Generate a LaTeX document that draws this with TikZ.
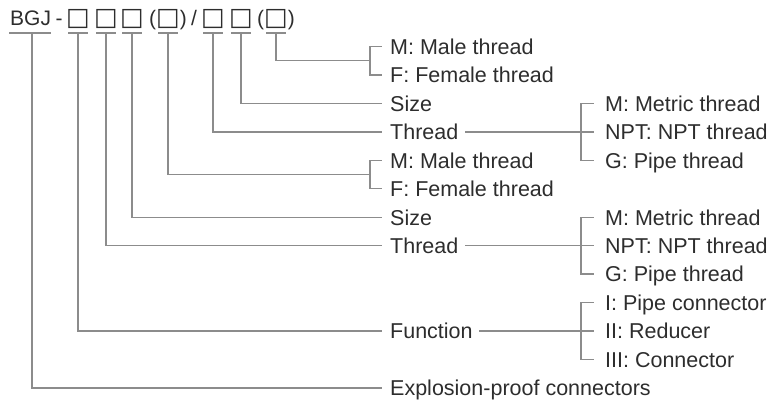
\documentclass[tikz,border=0pt]{standalone}
\usepackage{fontspec}
\setmainfont{Liberation Sans}
\newfontfamily\boxfont{DejaVu Sans}
\newcommand{\bx}{{\boxfont\fontsize{25}{28}\selectfont □}}
\definecolor{txt}{RGB}{45,45,45}
\definecolor{ln}{RGB}{140,140,140}
\begin{document}
\begin{tikzpicture}[x=1pt,y=-1pt,
  lbl/.style={anchor=base west, inner sep=0pt, text=txt, font=\fontsize{21.5}{24}\selectfont},
  ttl/.style={anchor=base, inner sep=0pt, text=txt, font=\fontsize{21}{24}\selectfont},
  conn/.style={draw=ln, line width=1.3pt, line cap=rect},
]
\useasboundingbox (0,0) rectangle (780,402);
% title
\node[ttl, anchor=base west] (tB) at (10,25) {BGJ};
\node[ttl] (tD) at (59,25) {-};
\node[ttl] (t1) at (78,25.5) {\bx};
\node[ttl] (t2) at (106,25.5) {\bx};
\node[ttl] (t3) at (132,25.5) {\bx};
\node[ttl] (t4) at (168,25) {(\bx)};
\node[ttl] (tS) at (194,25) {/};
\node[ttl] (t5) at (213,25.5) {\bx};
\node[ttl] (t6) at (241,25.5) {\bx};
\node[ttl] (t7) at (276,25) {(\bx)};
% underline anchors
\coordinate (u0) at (32,33);
\coordinate (u1) at (78,33);
\coordinate (u2) at (106,33);
\coordinate (u3) at (132,33);
\coordinate (u4) at (168,33);
\coordinate (u5) at (213,33);
\coordinate (u6) at (241,33);
\coordinate (u7) at (276,33);
\draw[conn] (10,33) -- (50,33);
\foreach \u in {u1,u2,u3,u4,u5,u6,u7} {\draw[conn] (\u) ++(-9,0) -- ++(18,0);}
% labels
\node[lbl] (m1) at (390,54.3) {M: Male thread};
\node[lbl] (f1) at (390,82.8) {F: Female thread};
\node[lbl] (s1) at (390,111.2) {Size};
\node[lbl] (th1) at (390,139.7) {Thread};
\node[lbl] (mm1) at (605,111.2) {M: Metric thread};
\node[lbl] (npt1) at (605,139.7) {NPT: NPT thread};
\node[lbl] (g1) at (605,168.1) {G: Pipe thread};
\node[lbl] (m2) at (390,168.1) {M: Male thread};
\node[lbl] (f2) at (390,196.6) {F: Female thread};
\node[lbl] (s2) at (390,225) {Size};
\node[lbl] (th2) at (390,253.5) {Thread};
\node[lbl] (mm2) at (605,225) {M: Metric thread};
\node[lbl] (npt2) at (605,253.5) {NPT: NPT thread};
\node[lbl] (g2) at (605,281.9) {G: Pipe thread};
\node[lbl] (fn) at (390,338.8) {Function};
\node[lbl] (i1) at (605,310.4) {I: Pipe connector};
\node[lbl] (i2) at (605,338.8) {II: Reducer};
\node[lbl] (i3) at (605,367.3) {III: Connector};
\node[lbl] (ex) at (390,395.7) {Explosion-proof connectors};
% connector ends
\coordinate (m1-in) at (381,46.5);
\coordinate (f1-in) at (381,75);
\coordinate (br1) at (370,60.75);
\coordinate (s1-in) at (381,103.4);
\coordinate (th1-in) at (381,131.9);
\coordinate (mm1-in) at (593,103.4);
\coordinate (npt1-in) at (593,131.9);
\coordinate (g1-in) at (593,160.3);
\coordinate (m2-in) at (381,160.3);
\coordinate (f2-in) at (381,188.8);
\coordinate (br2) at (370,174.55);
\coordinate (s2-in) at (381,217.2);
\coordinate (th2-in) at (381,245.7);
\coordinate (mm2-in) at (593,217.2);
\coordinate (npt2-in) at (593,245.7);
\coordinate (g2-in) at (593,274.1);
\coordinate (fn-in) at (381,331);
\coordinate (i1-in) at (593,302.6);
\coordinate (i2-in) at (593,331);
\coordinate (i3-in) at (593,359.5);
\coordinate (ex-in) at (381,387.9);
% vertical/horizontal connectors
\draw[conn] (u7) |- (br1);
\draw[conn] (u6) |- (s1-in);
\draw[conn] (u5) |- (th1-in);
\draw[conn] (u4) |- (br2);
\draw[conn] (u3) |- (s2-in);
\draw[conn] (u2) |- (th2-in);
\draw[conn] (u1) |- (fn-in);
\draw[conn] (u0) |- (ex-in);
% left brackets
\draw[conn] (m1-in) -- ++(-11,0) |- (f1-in);
\draw[conn] (m2-in) -- ++(-11,0) |- (f2-in);
% right brackets
\draw[conn] (mm1-in) -- ++(-12,0) |- (g1-in);
\draw[conn] (mm2-in) -- ++(-12,0) |- (g2-in);
\draw[conn] (i1-in) -- ++(-12,0) |- (i3-in);
% Thread / Function to brackets
\path (th1.east) ++(7,0) coordinate (th1-e);
\path (th2.east) ++(7,0) coordinate (th2-e);
\path (fn.east) ++(7,0) coordinate (fn-e);
\draw[conn] (th1-e |- npt1-in) -- (npt1-in);
\draw[conn] (th2-e |- npt2-in) -- (npt2-in);
\draw[conn] (fn-e |- i2-in) -- (i2-in);
\end{tikzpicture}
\end{document}
